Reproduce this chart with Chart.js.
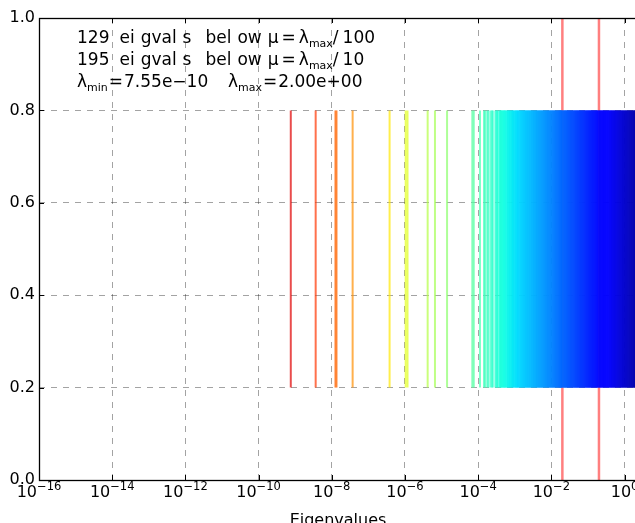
<!DOCTYPE html>
<html>
<head>
<meta charset="utf-8">
<script src="https://cdn.jsdelivr.net/npm/chart.js@4.4.1/dist/chart.umd.min.js"></script>
<style>
  html, body { margin: 0; padding: 0; background: #fff; overflow: hidden; }
  #wrap { position: relative; width: 660px; height: 530px; }
</style>
</head>
<body>
<div id="wrap"><canvas id="chart"></canvas></div>
<script>
const FONT = '"DejaVu Sans", sans-serif';
Chart.defaults.font.family = FONT;
Chart.defaults.color = '#000';

// log10 of the eigenvalues, smallest first
let logEigsLow = [-9.12, -8.44, -7.90, -7.87, -7.43, -6.42, -5.98, -5.93, -5.38, -5.18, -4.85, -4.16, -4.12];

// 1e-4 .. lambda_max/100
let logEigsMid = [
  -3.95, -3.84, -3.81, -3.75, -3.72, -3.66, -3.62, -3.60, -3.53, -3.50, -3.48, -3.46,
  -3.41, -3.40, -3.38, -3.37, -3.35, -3.33, -3.31, -3.30, -3.28, -3.26, -3.25,
  -3.22, -3.20, -3.19, -3.17, -3.15, -3.14, -3.12, -3.10, -3.08, -3.06,
  -3.05, -3.03, -3.01, -2.99, -2.97, -2.96, -2.94, -2.92, -2.91, -2.89,
  -2.87, -2.85, -2.84, -2.82, -2.80, -2.79, -2.77, -2.75, -2.74, -2.72,
  -2.70, -2.69, -2.67, -2.65, -2.64, -2.62, -2.60, -2.59, -2.57, -2.55,
  -2.54, -2.52, -2.50, -2.49, -2.47, -2.45, -2.44, -2.42, -2.40, -2.39,
  -2.37, -2.35, -2.34, -2.32, -2.30, -2.29, -2.27, -2.25, -2.24, -2.22,
  -2.20, -2.19, -2.17, -2.15, -2.14, -2.12, -2.10, -2.09, -2.07, -2.05,
  -2.04, -2.02, -2.00, -1.99, -1.97, -1.95, -1.94, -1.92, -1.90, -1.89,
  -1.87, -1.85, -1.84, -1.82, -1.80, -1.79, -1.77, -1.76, -1.74, -1.73,
  -1.72, -1.71
];

// lambda_max/100 .. lambda_max/10
let logEigsHigh = [
  -1.69, -1.67, -1.66, -1.64, -1.63, -1.61, -1.60, -1.58, -1.57, -1.55,
  -1.54, -1.52, -1.51, -1.49, -1.48, -1.46, -1.45, -1.43, -1.42, -1.40,
  -1.39, -1.37, -1.36, -1.34, -1.33, -1.31, -1.30, -1.28, -1.27, -1.25,
  -1.24, -1.22, -1.21, -1.19, -1.18, -1.16, -1.15, -1.13, -1.12, -1.10,
  -1.09, -1.07, -1.06, -1.04, -1.03, -1.01, -1.00, -0.98, -0.97, -0.95,
  -0.94, -0.92, -0.91, -0.89, -0.88, -0.86, -0.85, -0.83, -0.82, -0.80,
  -0.79, -0.77, -0.76, -0.74, -0.73, -0.71
];

// lambda_max/10 .. lambda_max
let logEigsTop = [
  -0.69, -0.67, -0.66, -0.64, -0.62, -0.61, -0.59, -0.57, -0.56, -0.54,
  -0.52, -0.51, -0.49, -0.47, -0.46, -0.44, -0.42, -0.41, -0.39, -0.37,
  -0.36, -0.34, -0.32, -0.31, -0.29, -0.27, -0.26, -0.24, -0.22, -0.21,
  -0.19, -0.17, -0.16, -0.14, -0.12, -0.11, -0.09, -0.07, -0.06, -0.04,
  -0.02, -0.01, 0.01, 0.03, 0.04, 0.06, 0.08, 0.09, 0.11, 0.13,
  0.14, 0.16, 0.18, 0.19, 0.21, 0.23, 0.24, 0.26, 0.28, 0.29, 0.30
];

let muValues = [0.02, 0.2];           // lambda_max/100, lambda_max/10
let lineBottom = 0.2, lineTop = 0.8;  // y extent of the eigenvalue lines
let xTickVals = [1e-16, 1e-14, 1e-12, 1e-10, 1e-8, 1e-6, 1e-4, 1e-2, 1e0];
let yTickVals = [0, 0.2, 0.4, 0.6, 0.8, 1.0];
let xMin = 1e-16, xMax = 2.19;

let nBelow100 = 129, nBelow10 = 195;
let lambdaMin = '7.55e\u221210', lambdaMax = '2.00e+00';

// matplotlib 'jet'
const jetR = [[0, 0], [0.35, 0], [0.66, 1], [0.89, 1], [1, 0.5]];
const jetG = [[0, 0], [0.125, 0], [0.375, 1], [0.64, 1], [0.91, 0], [1, 0]];
const jetB = [[0, 0.5], [0.11, 1], [0.34, 1], [0.65, 0], [1, 0]];
function interp(pts, t) {
  for (let i = 1; i < pts.length; i++) {
    if (t <= pts[i][0]) {
      let [x0, y0] = pts[i - 1], [x1, y1] = pts[i];
      return y0 + (y1 - y0) * (t - x0) / (x1 - x0);
    }
  }
  return pts[pts.length - 1][1];
}
function jet(t, a) {
  t = Math.min(1, Math.max(0, t));
  let r = Math.round(255 * interp(jetR, t));
  let g = Math.round(255 * interp(jetG, t));
  let b = Math.round(255 * interp(jetB, t));
  return 'rgba(' + r + ',' + g + ',' + b + ',' + a + ')';
}
let colorLo = -10, colorHi = 0.7;

let eigs = [].concat(logEigsLow, logEigsMid, logEigsHigh, logEigsTop).map(v => Math.pow(10, v));

let eigSets = eigs.map(e => ({
  data: [{x: e, y: lineBottom}, {x: e, y: lineTop}],
  borderColor: jet(1 - (Math.log10(e) - colorLo) / (colorHi - colorLo), 0.7),
  borderWidth: 2,
  showLine: true,
  pointRadius: 0,
  order: 1
}));

let muSets = muValues.map(m => ({
  data: [{x: m, y: 0}, {x: m, y: 1}],
  borderColor: 'rgba(255,0,0,0.5)',
  borderWidth: 2.5,
  showLine: true,
  pointRadius: 0,
  order: 2
}));

// text drawn piece by piece: each piece may be a subscript and carries the gap after it
function drawParts(ctx, x, y, parts) {
  parts.forEach(p => {
    ctx.font = (p.sub ? 11 : 17) + 'px ' + FONT;
    ctx.fillText(p.t, x, p.sub ? y + 4 : y);
    x += ctx.measureText(p.t).width + (p.gap || 0);
  });
}

function eigvalLine(n, div) {
  return [
    {t: String(n), gap: 10}, {t: 'ei', gap: 6}, {t: 'gval', gap: 6}, {t: 's', gap: 14},
    {t: 'bel', gap: 6}, {t: 'ow', gap: 6}, {t: '\u03BC', gap: 3}, {t: '=', gap: 3},
    {t: '\u03BB'}, {t: 'max', sub: true}, {t: '/', gap: 4}, {t: div}
  ];
}

const frame = {
  id: 'frame',
  afterDraw(chart) {
    const {ctx, chartArea: a, scales: {x, y}} = chart;
    ctx.save();
    ctx.strokeStyle = '#000';
    ctx.lineWidth = 1;
    ctx.beginPath();
    xTickVals.forEach(v => {
      let px = Math.round(x.getPixelForValue(v)) + 0.5;
      ctx.moveTo(px, a.bottom); ctx.lineTo(px, a.bottom - 5);
      ctx.moveTo(px, a.top); ctx.lineTo(px, a.top + 5);
    });
    yTickVals.forEach(v => {
      let py = Math.round(y.getPixelForValue(v)) + 0.5;
      ctx.moveTo(a.left, py); ctx.lineTo(a.left + 5, py);
    });
    ctx.stroke();
    ctx.lineWidth = 1.3;
    ctx.strokeRect(Math.round(a.left) + 0.5, Math.round(a.top) + 0.5, Math.round(a.width), Math.round(a.height));

    ctx.fillStyle = '#000';
    ctx.textBaseline = 'alphabetic';
    ctx.textAlign = 'left';

    // x tick labels: 10 with a raised exponent
    xTickVals.forEach(v => {
      let px = x.getPixelForValue(v);
      let exp = String(Math.round(Math.log10(v))).replace('-', '\u2212');
      ctx.font = '16px ' + FONT;
      let w1 = ctx.measureText('10').width;
      ctx.font = '11.5px ' + FONT;
      let w2 = ctx.measureText(exp).width;
      let x0 = px - (w1 + w2) / 2;
      ctx.font = '16px ' + FONT;
      ctx.fillText('10', x0, a.bottom + 17);
      ctx.font = '11.5px ' + FONT;
      ctx.fillText(exp, x0 + w1, a.bottom + 10);
    });

    drawParts(ctx, 77, 43, eigvalLine(nBelow100, '100'));
    drawParts(ctx, 77, 65, eigvalLine(nBelow10, '10'));
    drawParts(ctx, 77, 87, [{t: '\u03BB'}, {t: 'min', sub: true, gap: 1}, {t: '=', gap: 1}, {t: lambdaMin}]);
    drawParts(ctx, 228, 87, [{t: '\u03BB'}, {t: 'max', sub: true, gap: 1}, {t: '=', gap: 1}, {t: lambdaMax}]);
    ctx.restore();
  }
};

new Chart('chart', {
  type: 'scatter',
  data: { datasets: eigSets.concat(muSets) },
  options: {
    responsive: true,
    maintainAspectRatio: false,
    animation: false,
    events: [],
    layout: { padding: { top: 18, right: 23, left: 0, bottom: 0 } },
    plugins: { legend: { display: false }, tooltip: { enabled: false } },
    scales: {
      x: {
        type: 'logarithmic',
        min: xMin,
        max: xMax,
        z: 1,
        afterBuildTicks: s => { s.ticks = xTickVals.map(v => ({value: v})); },
        afterFit: s => { s.height = 50; },
        ticks: { display: false },
        grid: { color: 'rgba(0,0,0,0.36)', drawTicks: false },
        border: { display: false, dash: [6, 6] },
        title: { display: true, text: 'Eigenvalues', font: { size: 16 }, padding: 0 }
      },
      y: {
        min: 0,
        max: 1,
        z: 1,
        afterBuildTicks: s => { s.ticks = yTickVals.map(v => ({value: v})); },
        afterFit: s => { s.width = 39; },
        ticks: { callback: v => v.toFixed(1), font: { size: 16 }, padding: 4 },
        grid: { color: 'rgba(0,0,0,0.36)', drawTicks: false },
        border: { display: false, dash: [6, 6] }
      }
    }
  },
  plugins: [frame]
});
</script>
</body>
</html>
